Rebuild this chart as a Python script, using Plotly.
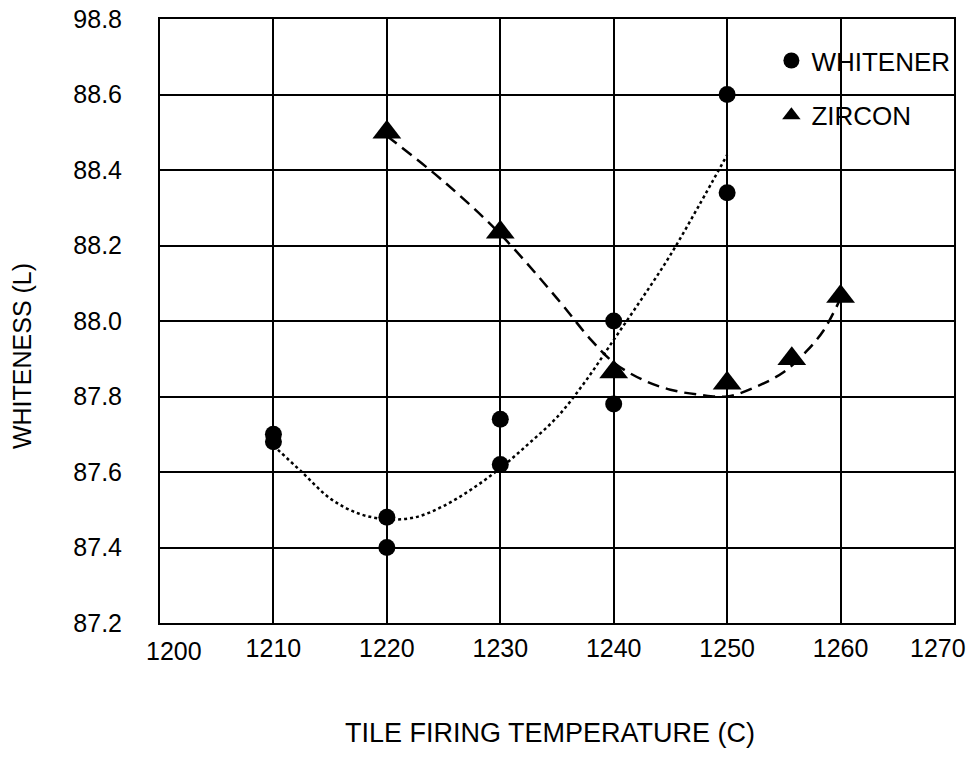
import plotly.graph_objects as go

# ---- data ----
whitener_x = [1210, 1210, 1220, 1220, 1230, 1230, 1240, 1240, 1250, 1250]
whitener_y = [87.70, 87.68, 87.48, 87.40, 87.74, 87.62, 88.00, 87.78, 88.60, 88.34]

zircon_x = [1220, 1230, 1240, 1250, 1255.7, 1260]
zircon_y = [88.50, 88.235, 87.865, 87.835, 87.90, 88.065]

# trend curves
whitener_trend_x = [1210, 1212.5, 1215, 1217.5, 1220, 1222.5, 1225, 1227.5, 1230,
                    1232.5, 1235, 1237.5, 1240, 1242.5, 1245, 1247.5, 1250]
whitener_trend_y = [87.67, 87.60, 87.53, 87.49, 87.475, 87.48, 87.51, 87.555, 87.61,
                    87.675, 87.745, 87.84, 87.95, 88.06, 88.175, 88.305, 88.44]

zircon_trend_x = [1220, 1225, 1230, 1235, 1238, 1240, 1242.5, 1245, 1247.5,
                  1250, 1252.5, 1255, 1257, 1258.5, 1260]
zircon_trend_y = [88.49, 88.37, 88.23, 88.06, 87.95, 87.89, 87.845, 87.818, 87.805,
                  87.80, 87.825, 87.865, 87.92, 87.975, 88.06]

y_tick_vals = [87.2, 87.4, 87.6, 87.8, 88.0, 88.2, 88.4, 88.6, 88.8]
y_tick_text = ["87.2", "87.4", "87.6", "87.8", "88.0", "88.2", "88.4", "88.6", "98.8"]

x_tick_vals = [1200, 1210, 1220, 1230, 1240, 1250, 1260, 1270]
x_tick_text = ["", "1210", "1220", "1230", "1240", "1250", "1260", ""]
x_edge_labels = ["1200", "1270"]

x_title = "TILE FIRING TEMPERATURE (C)"
y_title = "WHITENESS (L)"

FONT = "Liberation Sans, Arial, sans-serif"

fig = go.Figure()

fig.add_trace(go.Scatter(
    x=whitener_trend_x, y=whitener_trend_y, mode="lines",
    line=dict(color="black", width=2.5, dash="3px,3px", shape="spline"),
    showlegend=False, hoverinfo="skip"))

fig.add_trace(go.Scatter(
    x=zircon_trend_x, y=zircon_trend_y, mode="lines",
    line=dict(color="black", width=2.5, dash="12px,7px", shape="spline"),
    showlegend=False, hoverinfo="skip"))

fig.add_trace(go.Scatter(
    x=whitener_x, y=whitener_y, mode="markers", name="WHITENER",
    legendgroup="w",
    marker=dict(symbol="circle", size=17, color="black")))

fig.add_trace(go.Scatter(
    x=zircon_x, y=zircon_y, mode="markers", name="ZIRCON",
    legendgroup="z",
    marker=dict(symbol="triangle-up", size=25, color="black")))

fig.update_layout(
    width=977, height=758,
    margin=dict(l=160, r=23, t=19, b=135),
    paper_bgcolor="white", plot_bgcolor="white",
    font=dict(family=FONT, size=25, color="black"),
    legend=dict(
        x=0.77, y=0.97, xanchor="left", yanchor="top",
        bgcolor="rgba(0,0,0,0)", font=dict(size=26, family=FONT, color="black"),
        tracegroupgap=18, itemsizing="trace"),
    xaxis=dict(
        range=[1200, 1270], tickvals=x_tick_vals, ticktext=x_tick_text,
        showgrid=True, gridcolor="black", gridwidth=2,
        showline=True, linecolor="black", linewidth=2, mirror=True,
        ticks="", ticklabelstandoff=2, zeroline=False, automargin=False,
        ticklabeloverflow="allow", tickfont=dict(size=25)),
    yaxis=dict(
        range=[87.2, 88.8], tickvals=y_tick_vals, ticktext=y_tick_text,
        showgrid=True, gridcolor="black", gridwidth=2,
        showline=True, linecolor="black", linewidth=2, mirror=True,
        ticks="", ticklabelstandoff=31, zeroline=False, automargin=False,
        ticklabeloverflow="allow", tickfont=dict(size=25)),
)

fig.add_annotation(x=x_tick_vals[0], y=0, xref="x", yref="paper",
                   text=x_edge_labels[0], showarrow=False, xanchor="center",
                   yanchor="middle", xshift=14, yshift=-28,
                   font=dict(size=25, family=FONT, color="black"))
fig.add_annotation(x=x_tick_vals[-1], y=0, xref="x", yref="paper",
                   text=x_edge_labels[1], showarrow=False, xanchor="center",
                   yanchor="middle", xshift=-16, yshift=-25,
                   font=dict(size=25, family=FONT, color="black"))

# axis titles
fig.add_annotation(x=0.491, y=-0.182, xref="paper", yref="paper",
                   text=x_title, showarrow=False, xanchor="center", yanchor="middle",
                   font=dict(size=27, family=FONT, color="black"))
fig.add_annotation(x=-0.1738, y=0.442, xref="paper", yref="paper",
                   text=y_title, showarrow=False, xanchor="center", yanchor="middle",
                   textangle=-90, font=dict(size=25, family=FONT, color="black"))

# remove the default 8px page margin so the figure fills the window exactly
fig.write_html("out.html",
               config={"displayModeBar": False},
               post_script="document.body.style.margin='0';document.body.style.overflow='hidden';")
